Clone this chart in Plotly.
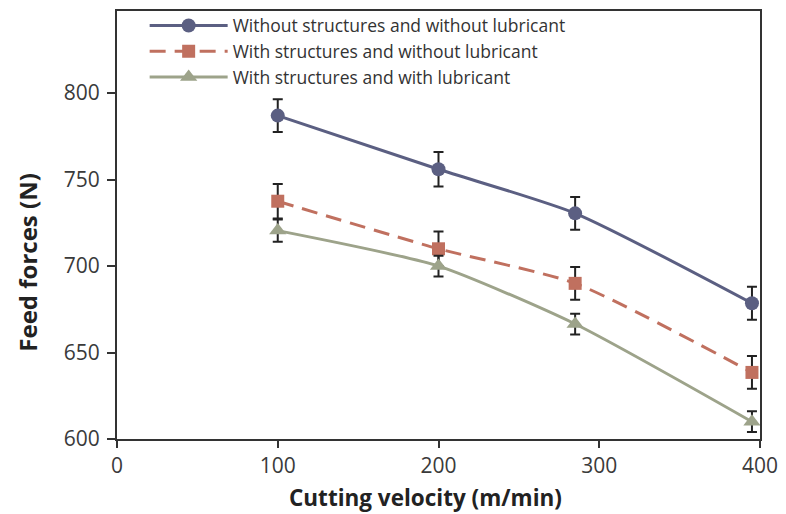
import plotly.graph_objects as go

velocity = [100, 200, 285, 395]

names = [
    "Without structures and without lubricant",
    "With structures and without lubricant",
    "With structures and with lubricant",
]
force_none = [787, 756, 730.5, 678.5]
err_none = [9.5, 10, 9.5, 9.5]
force_struct = [737.5, 710, 690, 638.5]
err_struct = [10, 10, 9.5, 9.5]
force_lub = [720.5, 700, 666.5, 610]
err_lub = [6.5, 6, 6, 6]

x_title = "Cutting velocity (m/min)"
y_title = "Feed forces (N)"

colors = ["#5B5F82", "#C0705F", "#9DA38A"]
symbols = ["circle", "square", "triangle-up"]
dashes = ["solid", "16px,9px", "solid"]
sizes = [14, 13, 15]

fig = go.Figure()
for name, ys, es, c, s, d, sz in zip(
    names, [force_none, force_struct, force_lub], [err_none, err_struct, err_lub],
    colors, symbols, dashes, sizes,
):
    fig.add_trace(go.Scatter(
        x=velocity, y=ys, name=name, mode="lines+markers",
        line=dict(color=c, width=3, dash=d, shape="spline", smoothing=0.6),
        marker=dict(color=c, symbol=s, size=sz),
        error_y=dict(type="data", array=es, visible=True, color="#222222",
                     thickness=2, width=5),
    ))

fig.update_layout(
    width=786, height=514,
    margin=dict(l=117, r=23, t=8, b=75),
    plot_bgcolor="white", paper_bgcolor="white",
    font=dict(family="Open Sans, sans-serif", color="#333333"),
    showlegend=True,
    legend=dict(x=0.043, y=1.008, xanchor="left", yanchor="top",
                bgcolor="rgba(0,0,0,0)", font=dict(size=17.5, color="#333333"),
                itemwidth=78, tracegroupgap=0),
    xaxis=dict(
        range=[0, 400], tickvals=[0, 100, 200, 300, 400],
        showgrid=False, zeroline=False,
        showline=True, linecolor="#333333", linewidth=2, mirror=True,
        ticks="outside", ticklen=7, tickwidth=2, tickcolor="#333333",
        tickfont=dict(size=21, color="#3a3a3a"),
    ),
    yaxis=dict(
        range=[600, 847.5], tickvals=[600, 650, 700, 750, 800],
        showgrid=False, zeroline=False,
        showline=True, linecolor="#333333", linewidth=2, mirror=True,
        ticks="outside", ticklen=8, tickwidth=2, tickcolor="#333333",
        ticklabelstandoff=3,
        tickfont=dict(size=21, color="#3a3a3a"),
    ),
    annotations=[
        dict(text="<b>" + x_title + "</b>", xref="paper", yref="paper",
             x=(427 - 117) / 646, y=-(498 - 439) / 431, xanchor="center", yanchor="middle",
             showarrow=False, font=dict(size=22.5, color="#222222")),
        dict(text="<b>" + y_title + "</b>", xref="paper", yref="paper",
             x=-(117 - 27) / 646, y=(439 - 261) / 431, xanchor="center", yanchor="middle",
             textangle=-90, showarrow=False, font=dict(size=24, color="#222222")),
    ],
)

fig.write_html("out.html")
